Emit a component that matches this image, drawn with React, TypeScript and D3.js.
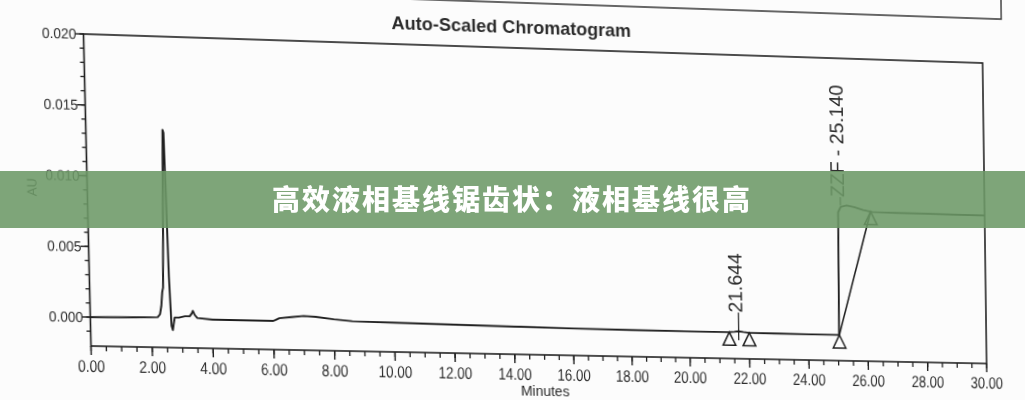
import React from "react";
import * as d3 from "d3";

// ---- data ----
const timeMin = [0, 0.5, 1.0, 1.5, 2.0, 2.2, 2.28, 2.33, 2.37, 2.4, 2.44, 2.5, 2.53, 2.6, 2.65, 2.69, 2.72, 2.76, 2.9, 3.1, 3.25, 3.32, 3.36, 3.42, 3.5, 4.0, 5.0, 6.0, 6.1, 6.2, 6.6, 7.0, 7.4, 8.0, 8.6, 9.0, 10.0, 12.0, 14.0, 16.0, 18.0, 20.0, 21.3, 21.5, 21.64, 21.8, 22.0, 23.0, 24.0, 25.03, 25.06, 25.15, 25.35, 25.6, 25.9, 26.2, 27.0, 28.0, 29.0, 30.0];
const absorbanceAU = [0.0, 0.00002, 0.00003, 0.00005, 0.00008, 0.0001, 0.0003, 0.0009, 0.0019, 0.0022, 0.006, 0.0134, 0.0132, 0.003, -0.0005, -0.0008, -0.0004, 0.0001, 0.0001, 0.0002, 0.0002, 0.0004, 0.0006, 0.0003, 0.0001, 0.0, 0.0, 0.0, 0.0001, 0.0002, 0.0003, 0.0004, 0.00035, 0.0002, 0.0001, 0.00008, 0.00005, 0.0, -0.00005, -0.0001, -0.00012, -0.00013, -0.00013, -0.0001, -0.00005, -0.0001, -0.00015, -0.00016, -0.00017, -0.00017, 0.0088, 0.0092, 0.0093, 0.0092, 0.009, 0.00888, 0.00885, 0.00885, 0.00883, 0.00883];

// integration markers (triangles)
const markerTimes = [21.33, 22.0, 25.04, 26.15];
const markerValues = [-0.00013, -0.00015, -0.00017, 0.0089];
// drawn integration baseline segment
const baselineSegT = [25.04, 26.15];
const baselineSegV = [-0.00017, 0.0089];

// peak labels
const peakLabels = ["21.644", "ZZF - 25.140"];
const peakLabelTimes = [21.644, 25.14];
const peakLabelFrom = [-0.0007, 0.0093];
const peakLabelTextAt = [0.0013, 0.0099];

const xMajorTicks = d3.range(0, 30.001, 2);
const xMinorTicks = d3.range(0, 30.001, 0.5);
const yMajorTicks = [0, 0.005, 0.01, 0.015, 0.02];
const yMinorTicks = d3.range(-0.001, 0.02001, 0.001);

const titleText = "Auto-Scaled Chromatogram";
const xTitle = "Minutes";
const yTitle = "AU";
const bannerText = "高效液相基线锯齿状：液相基线很高";

// ---- layout (ideal, before photographic warp) ----
const X0 = 83, X1 = 983, Y0 = 34, Y1 = 346;
// photographed quad corners: TL, TR, BR, BL
const quad = [[83, 34], [982.5, 63], [986.5, 363.5], [90.5, 346]];
// calibration: where the time axis ticks land in the photo (bottom edge)
const calibT = [0, 5, 10, 15, 20, 25, 30];
const calibPhotoX = [91, 243.5, 395, 544.5, 690, 838.5, 986.5];

function homography() {
  const [[x0, y0], [x1, y1], [x2, y2], [x3, y3]] = quad;
  const sx = x0 - x1 + x2 - x3, sy = y0 - y1 + y2 - y3;
  const dx1 = x1 - x2, dx2 = x3 - x2, dy1 = y1 - y2, dy2 = y3 - y2;
  const den = dx1 * dy2 - dx2 * dy1;
  const g = (sx * dy2 - dx2 * sy) / den;
  const h = (dx1 * sy - sx * dy1) / den;
  const a = x1 - x0 + g * x1, b = x3 - x0 + h * x3, c = x0;
  const d = y1 - y0 + g * y1, e = y3 - y0 + h * y3, f = y0;
  const W = X1 - X0, H = Y1 - Y0;
  return {
    m11: a / W, m12: b / H, m13: c - (a * X0) / W - (b * Y0) / H,
    m21: d / W, m22: e / H, m23: f - (d * X0) / W - (e * Y0) / H,
    m31: g / W, m32: h / H, m33: 1 - (g * X0) / W - (h * Y0) / H,
  };
}
const M = homography();
const warpCss = `matrix3d(${M.m11},${M.m21},0,${M.m31},${M.m12},${M.m22},0,${M.m32},0,0,1,0,${M.m13},${M.m23},0,${M.m33})`;
function forwardX(X: number, Y: number) {
  const w = M.m31 * X + M.m32 * Y + M.m33;
  return (M.m11 * X + M.m12 * Y + M.m13) / w;
}
function idealXFor(px: number, Y: number) {
  let lo = X0 - 300, hi = X1 + 300;
  for (let k = 0; k < 60; k++) {
    const mid = (lo + hi) / 2;
    if (forwardX(mid, Y) < px) lo = mid; else hi = mid;
  }
  return (lo + hi) / 2;
}

const INK = "#1f1f1f";
const TXT = "#2b2b2b";
const FONT = "'Liberation Sans', Arial, sans-serif";

export default function App() {
  const x = d3.scaleLinear().domain(calibT).range(calibPhotoX.map((p) => idealXFor(p, Y1)));
  const y = d3.scaleLinear().domain([-0.00205, 0.02]).range([Y1, Y0]);
  const line = d3
    .line<number>()
    .x((_, i) => x(timeMin[i]))
    .y((v) => y(v));
  const trace = line(absorbanceAU) || "";
  const yBot = y(-0.00205);

  return (
    <div style={{ position: "absolute", left: 0, top: 0, width: 1025, height: 400, overflow: "hidden", background: "#fcfcfc" }}>
      <div style={{ position: "absolute", left: 0, top: 0, transformOrigin: "0 0", transform: warpCss }}>
        <svg width={1025} height={420} style={{ overflow: "visible", display: "block" }}>
          {/* box above title */}
          <path d={`M300,-12 L1003,-12 L1003,-70`} fill="none" stroke="#333" strokeWidth={1.4} />
          <text x={504} y={19} textAnchor="middle" fontFamily={FONT} fontWeight="bold" fontSize={18} fill={TXT}>
            {titleText}
          </text>
          {/* frame */}
          <rect x={x(0)} y={y(0.02)} width={x(30) - x(0)} height={yBot - y(0.02)} fill="none" stroke={INK} strokeWidth={1.6} />
          {/* y ticks */}
          {yMinorTicks.map((t) => (
            <line key={"ym" + t} x1={x(0) - 4} x2={x(0)} y1={y(t)} y2={y(t)} stroke={INK} strokeWidth={1.3} />
          ))}
          {yMajorTicks.map((t) => (
            <g key={"yM" + t}>
              <line x1={x(0) - 8} x2={x(0)} y1={y(t)} y2={y(t)} stroke={INK} strokeWidth={1.4} />
              <text
                transform={`translate(${x(0) - 7},${y(t)}) scale(0.91,1)`}
                textAnchor="end"
                dy="0.35em"
                fontFamily={FONT}
                fontSize={14.5}
                fill={TXT}
              >
                {d3.format(".3f")(t)}
              </text>
            </g>
          ))}
          <text transform={`translate(30,${y(0.0091)}) rotate(-90)`} textAnchor="middle" dy="0.35em" fontFamily={FONT} fontSize={13} fill={TXT}>
            {yTitle}
          </text>
          {/* x ticks */}
          {xMinorTicks.map((t) => (
            <line key={"xm" + t} x1={x(t)} x2={x(t)} y1={yBot} y2={yBot + 5} stroke={INK} strokeWidth={1.3} />
          ))}
          {xMajorTicks.map((t) => (
            <g key={"xM" + t}>
              <line x1={x(t)} x2={x(t)} y1={yBot} y2={yBot + 9} stroke={INK} strokeWidth={1.4} />
              <text
                transform={`translate(${x(t)},${yBot + 26}) scale(0.79,1)`}
                textAnchor="middle"
                fontFamily={FONT}
                fontSize={17}
                fill={TXT}
              >
                {d3.format(".2f")(t)}
              </text>
            </g>
          ))}
          <text x={x(15)} y={yBot + 42} textAnchor="middle" fontFamily={FONT} fontSize={14} fill={TXT}>
            {xTitle}
          </text>
          {/* trace */}
          <path d={trace} fill="none" stroke={INK} strokeWidth={1.9} strokeLinejoin="round" />
          {/* integration baseline */}
          <line x1={x(baselineSegT[0])} y1={y(baselineSegV[0])} x2={x(baselineSegT[1])} y2={y(baselineSegV[1])} stroke={INK} strokeWidth={1.6} />
          {/* markers */}
          {markerTimes.map((t, i) => (
            <path
              key={"mk" + i}
              d={`M${x(t)},${y(markerValues[i])} l-6.5,13.5 l13,0 Z`}
              fill="none"
              stroke={INK}
              strokeWidth={1.5}
            />
          ))}
          {/* peak labels */}
          {peakLabels.map((lab, i) => (
            <g key={"pl" + i}>
              <line
                x1={x(peakLabelTimes[i])}
                x2={x(peakLabelTimes[i])}
                y1={y(peakLabelFrom[i])}
                y2={y(peakLabelTextAt[i])}
                stroke={INK}
                strokeWidth={1.2}
              />
              <text
                transform={`translate(${x(peakLabelTimes[i])},${y(peakLabelTextAt[i])}) rotate(-90)`}
                dy="0.2em"
                fontFamily={FONT}
                fontSize={20}
                fill={TXT}
              >
                {lab}
              </text>
            </g>
          ))}
        </svg>
      </div>
      <svg width={1025} height={400} style={{ position: "absolute", left: 0, top: 0 }}>
        <rect x={0} y={171} width={1025} height={57} fill="rgb(108,153,103)" fillOpacity={0.88} />
        <text
          x={512}
          y={200}
          textAnchor="middle"
          dy="0.35em"
          fontFamily="'Noto Sans CJK SC', sans-serif"
          fontWeight={900}
          fontSize={28}
          letterSpacing={2}
          fill="#ffffff"
        >
          {bannerText}
        </text>
      </svg>
    </div>
  );
}
